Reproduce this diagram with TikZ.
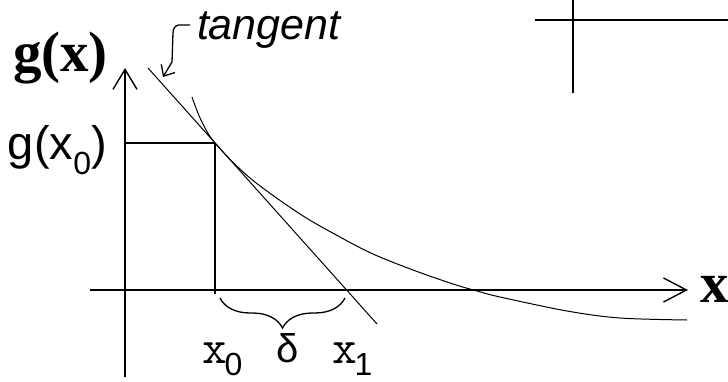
\documentclass[tikz,border=0pt]{standalone}
\usepackage{fontspec}
\usetikzlibrary{arrows.meta,decorations.pathreplacing}
\newfontfamily\serifbf{Liberation Serif}
\newfontfamily\sansf{Liberation Sans}
\begin{document}
\begin{tikzpicture}[x=1pt,y=-1pt,
  axis/.style={line width=1.6pt,black},
  thin line/.style={line width=1pt,black},
  lbl/.style={anchor=base west,inner sep=0pt,outer sep=0pt},
  bigbold/.style={font=\fontsize{57}{57}\selectfont\serifbf\bfseries},
  sanslbl/.style={font=\fontsize{47}{47}\selectfont\sansf},
  vbarb/.style={-{Straight Barb[length=#1,width=24pt,line width=1.4pt]}}]
\useasboundingbox (0,0) rectangle (728,382);
% key points
\coordinate (ybot) at (125,377);
\coordinate (ytop) at (125,68);
\coordinate (xleft) at (90,290);
\coordinate (xright) at (688,290);
\coordinate (gx0) at (125,143);
\coordinate (P) at (215,143);
\coordinate (Px) at (215,294);
\coordinate (T1) at (148,68);
\coordinate (T2) at (377,324);
\coordinate (B1) at (220,298);
\coordinate (B2) at (345,298);
\coordinate (crossL) at (535,20);
\coordinate (crossR) at (728,20);
\coordinate (crossT) at (573,0);
\coordinate (crossB) at (573,93);
\coordinate (ptrS) at (190,25);
\coordinate (ptrE) at (163,77);
% axes
\draw[axis,vbarb=20pt] (ybot) -- (ytop);
\draw[axis,vbarb=23pt] (xleft) -- (xright);
% x0 guide lines
\draw[axis,line width=1.4pt] (gx0) -- (P);
\draw[axis,line width=1.4pt] (P) -- (Px);
% tangent
\draw[thin line] (T1) -- (T2);
% curve
\draw[thin line] plot[smooth,tension=0.55] coordinates {(192,97) (201,120) (215,143) (250,178) (300,214) (340,237) (373,254) (413,270) (453,284) (477,291) (500,297) (567,311) (620,318) (687,320)};
% brace
\draw[line width=1.3pt,decorate,decoration={brace,mirror,amplitude=30pt}] (B1) -- (B2);
% tangent pointer
\draw[line width=1.3pt,-{Straight Barb[length=9pt,width=16pt,line width=1.3pt]}] (ptrS) -- (179,25) to[out=180,in=90] (173,33) -- (172,62) -- (ptrE);
% top-right cross
\draw[axis,line width=1.4pt] (crossL) -- (crossR);
\draw[axis,line width=1.4pt] (crossT) -- (crossB);
% labels
\node[lbl,bigbold] (lgx) at (13,72) {g(x)};
\node[lbl,sanslbl] (lgx0) at (8,160) {g(x\raisebox{-15pt}{\fontsize{32}{32}\selectfont 0})};
\node[lbl,font=\fontsize{43}{43}\selectfont\sansf\itshape] (ltan) at (197,40) {tangent};
\node[lbl] (lx0) at (202,363) {\fontsize{48}{48}\selectfont\ttfamily x\kern-2pt\raisebox{-12pt}{\fontsize{32}{32}\selectfont\sansf 0}};
\node[lbl,font=\fontsize{40}{40}\selectfont\sansf] (ldelta) at (276,362) {δ};
\node[lbl] (lx1) at (332,363) {\fontsize{48}{48}\selectfont\ttfamily x\kern-2pt\raisebox{-12pt}{\fontsize{32}{32}\selectfont\sansf 1}};
\node[lbl,bigbold] (lX) at (700,302) {x};
\end{tikzpicture}
\end{document}
